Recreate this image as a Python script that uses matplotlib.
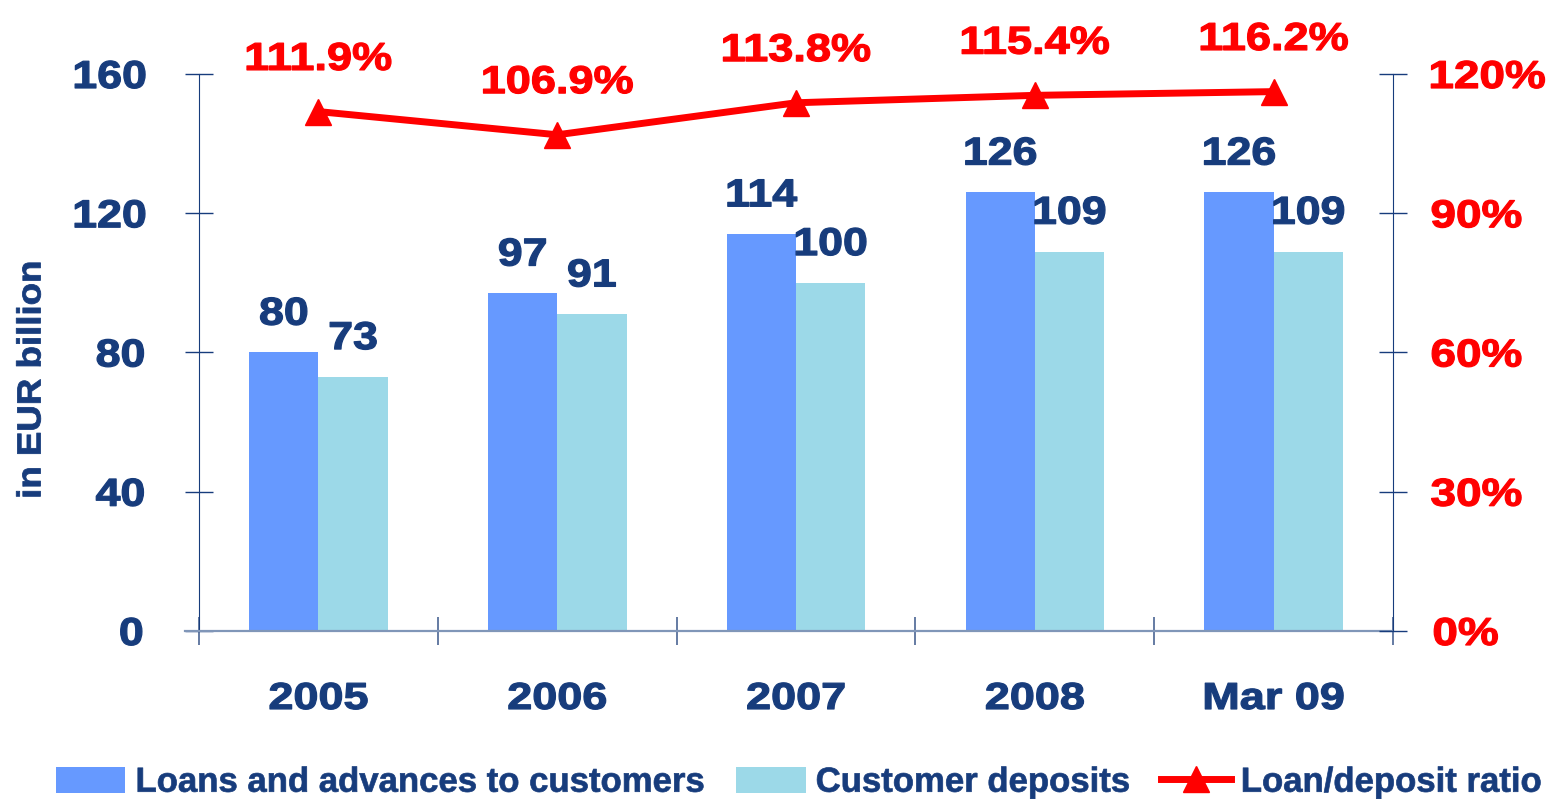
import numpy as np
import matplotlib
matplotlib.use('Agg')
import matplotlib.pyplot as plt
from matplotlib.ticker import FixedLocator
from matplotlib.patheffects import AbstractPathEffect
from matplotlib.transforms import Affine2D

# data
periods = ['2005', '2006', '2007', '2008', 'Mar 09']
loans = [80, 97, 114, 126, 126]
deposits = [73, 91, 100, 109, 109]
ratio = [111.9, 106.9, 113.8, 115.4, 116.2]
left_ticks = [0, 40, 80, 120, 160]
right_ticks = [0, 30, 60, 90, 120]

NAVY = '#173C7C'
LOAN_BLUE = '#6699FF'
DEP_CYAN = '#9CD9E8'
RED = '#FF0000'
AXIS_GREY = '#8096B8'


class Widen(AbstractPathEffect):
  '''
  Stretch text horizontally about its own centre and thicken it a little,
  the reference uses wide heavy glyphs
  '''
  def __init__(self, sx, stroke=0.9):
    super().__init__()
    self.sx = sx
    self.stroke = stroke

  def draw_path(self, renderer, gc, tpath, affine, rgbFace=None):
    ext = tpath.get_extents()
    cx = (ext.x0 + ext.x1) / 2
    stretch = Affine2D().translate(-cx, 0).scale(self.sx, 1).translate(cx, 0)
    gc0 = renderer.new_gc()
    gc0.copy_properties(gc)
    gc0.set_linewidth(self.stroke)
    gc0.set_foreground(rgbFace)
    gc0.set_joinstyle('round')
    renderer.draw_path(gc0, tpath, stretch + affine, rgbFace)
    gc0.restore()


plt.rcParams['font.family'] = ['Liberation Sans', 'DejaVu Sans']
plt.rcParams['font.weight'] = 'bold'

fig = plt.figure(figsize=(15.48, 7.99), dpi=100)
ax = fig.add_axes([0.1286, 0.2103, 0.7713, 0.6971])
ax2 = ax.twinx()

x = np.arange(len(periods))
w = 0.29
b1 = ax.bar(x - w/2, loans, w, color=LOAN_BLUE, label='Loans and advances to customers', zorder=2)
b2 = ax.bar(x + w/2, deposits, w, color=DEP_CYAN, label='Customer deposits', zorder=2)

for xs, vals in ((x - w/2, loans), (x + w/2, deposits)):
  for xi, v in zip(xs, vals):
    ax.annotate(str(v), (xi, v), xytext=(0, 20), textcoords='offset points',
                ha='center', va='baseline', fontsize=28, color=NAVY, fontweight='bold',
                path_effects=[Widen(1.15)])

ln, = ax2.plot(x, ratio, color=RED, lw=5, marker='^', markersize=19,
               label='Loan/deposit ratio', zorder=3)
for xi, v in zip(x, ratio):
  ax2.annotate(f'{v:.1f}%', (xi, v), xytext=(0, 30), textcoords='offset points',
               ha='center', va='baseline', fontsize=28, color=RED, fontweight='bold',
               annotation_clip=False, path_effects=[Widen(1.16)])

ax.set_xlim(-0.5, len(periods) - 0.5)
ax.set_ylim(0, 160)
ax2.set_ylim(0, 120)
ax.set_yticks(left_ticks)
ax2.set_yticks(right_ticks)
ax2.set_yticklabels([f'{t}%' for t in right_ticks])

ax.set_xticks(x)
ax.set_xticklabels(periods)
ax.xaxis.set_minor_locator(FixedLocator(np.arange(-0.5, len(periods), 1.0)))
ax.tick_params(axis='x', which='major', length=0, pad=36, labelsize=27, labelcolor=NAVY)
ax.tick_params(axis='x', which='minor', length=20, width=1.2, direction='inout', color='#4A6594')

ax.tick_params(axis='y', direction='inout', length=20, width=1, color=NAVY,
               pad=31, labelsize=28, labelcolor=NAVY)
ax2.tick_params(axis='y', direction='inout', length=20, width=1, color=NAVY,
                pad=22, labelsize=28, labelcolor=RED)

for lbl in ax.get_yticklabels():
  lbl.set_path_effects([Widen(1.15)])
for lbl in ax2.get_yticklabels():
  lbl.set_path_effects([Widen(1.18)])
for lbl in ax.get_xticklabels():
  lbl.set_path_effects([Widen(1.2)])

for a in (ax, ax2):
  a.spines['top'].set_visible(False)
  a.spines['left'].set_color(NAVY)
  a.spines['right'].set_color(NAVY)
  a.spines['bottom'].set_visible(False)
ax.spines['right'].set_visible(False)
ax2.spines['left'].set_visible(False)

# bottom axis line runs a little past the left spine
ax.plot([-0.56, len(periods) - 0.5], [0, 0], color=AXIS_GREY, lw=1.6, clip_on=False, zorder=4)

ax.set_ylabel('in EUR billion', fontsize=24, color=NAVY, fontweight='bold',
              path_effects=[Widen(1.1, 0.6)])
ax.yaxis.set_label_coords(-0.127, 0.452)

leg = fig.legend(handles=[b1, b2, ln], loc='center', bbox_to_anchor=(0.516, 0.021),
                 ncol=3, frameon=False, fontsize=25, labelcolor=NAVY,
                 handlelength=2.0, handleheight=0.78, handletextpad=0.29,
                 columnspacing=0.9, borderaxespad=0, borderpad=0)
for t in leg.get_texts():
  t.set_path_effects([Widen(1.0, 0.5)])

fig.savefig('out.png', dpi=100)
